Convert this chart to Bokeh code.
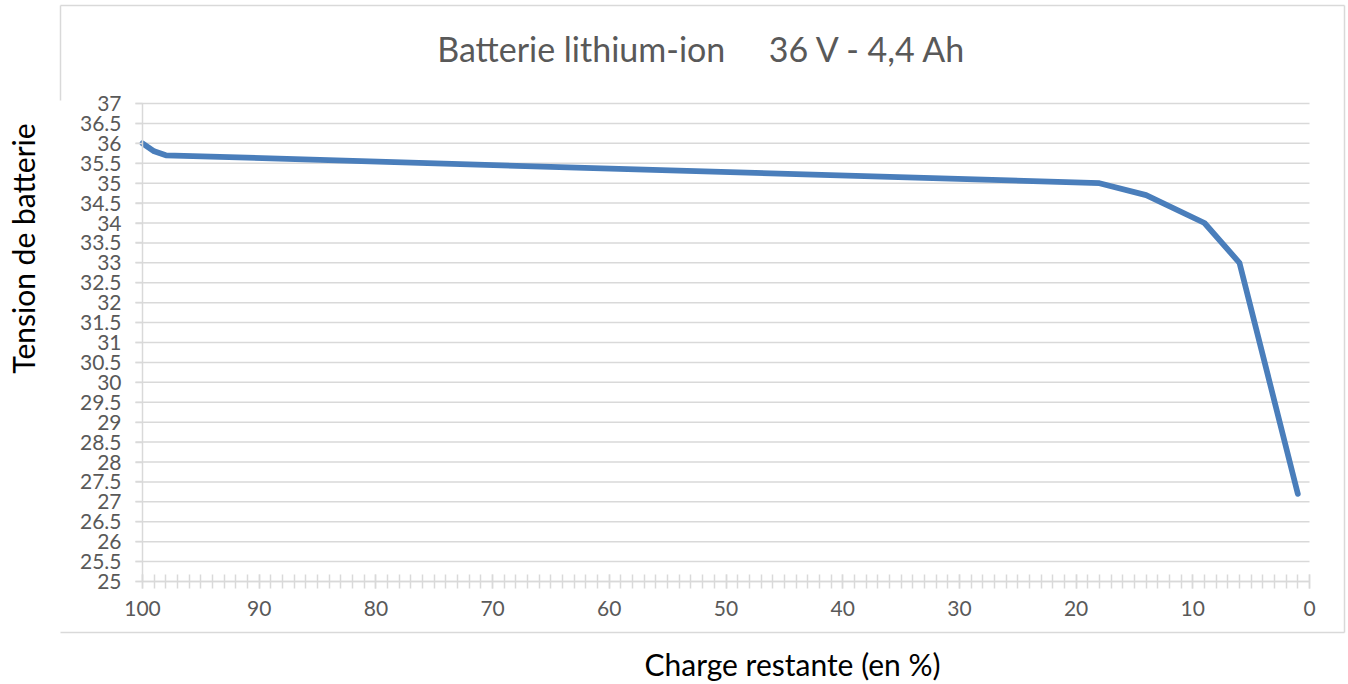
import math
from bokeh.plotting import figure
from bokeh.models import Range1d, FixedTicker, Label, LinearAxis
from bokeh.embed import file_html
from bokeh.resources import INLINE

# Data
charge = [100, 99, 98, 18, 14, 9, 6, 1]
tension = [36.0, 35.8, 35.7, 35.0, 34.7, 34.0, 33.0, 27.2]
y_ticks = [25 + 0.5 * i for i in range(25)]
y_tick_labels = [("%g" % t) for t in y_ticks]
x_ticks = list(range(0, 101, 10))
x_minor = list(range(0, 101))

title_text = "Batterie lithium-ion\u00a0\u00a0\u00a0\u00a0\u00a036 V - 4,4 Ah"
x_title = "Charge restante (en %)"
y_title = "Tension de batterie"

# Layout (canvas pixels)
W, H = 1348, 684
PL, PR, PT, PB = 142, 1309, 103, 581   # plot area edges
XMAX, XMIN, YMIN, YMAX = 100, 0, 25, 37
sx = (PR - PL) / (XMAX - XMIN)
sy = (PB - PT) / (YMAX - YMIN)

def dx(px):  # canvas px -> data x (reversed axis)
    return XMAX - (px - PL) / sx

def dy(py):  # canvas px -> data y
    return YMAX - (py - PT) / sy

FONT = "Lato"
GRID = "#D9D9D9"
TXT = "#595959"

p = figure(width=W, height=H, output_backend="svg", toolbar_location=None,
           x_range=Range1d(dx(0), dx(W)), y_range=Range1d(dy(H), dy(0)),
           x_axis_location=None, y_axis_location=None,
           min_border=0, outline_line_color=None)
p.xgrid.visible = False
p.ygrid.visible = False

# Outer chart border
bl, br, bt, bb = 60, 1344, 5, 632
p.segment(x0=[dx(bl), dx(bl), dx(br), dx(bl)], y0=[dy(bt), dy(bb), dy(bt), dy(bt)],
          x1=[dx(br), dx(br), dx(br), dx(bl)], y1=[dy(bt), dy(bb), dy(bb), dy(100)],
          line_color=GRID, line_width=1.5)

# Horizontal gridlines (extend slightly left like tick marks)
p.segment(x0=[dx(PL - 7)] * len(y_ticks), x1=[XMIN] * len(y_ticks),
          y0=y_ticks, y1=y_ticks, line_color=GRID, line_width=1.5)

p.line(charge, tension, line_color="#4A7EBB", line_width=5.75, line_join="round", line_cap="round")

# Y axis
ya = LinearAxis(fixed_location=XMAX, bounds=(YMIN, YMAX))
ya.ticker = FixedTicker(ticks=y_ticks, minor_ticks=[])
ya.major_label_overrides = {t: s for t, s in zip(y_ticks, y_tick_labels)}
ya.axis_line_color = GRID
ya.axis_line_width = 1.5
ya.major_tick_line_color = GRID
ya.major_tick_line_width = 1.5
ya.major_tick_out = 7
ya.major_tick_in = 0
ya.minor_tick_line_color = None
ya.major_label_text_font = FONT
ya.major_label_text_font_size = "21px"
ya.major_label_text_color = TXT
ya.major_label_standoff = 14
p.add_layout(ya, "left")

# X axis
xa = LinearAxis(fixed_location=YMIN, bounds=(XMIN, XMAX))
xa.ticker = FixedTicker(ticks=x_ticks, minor_ticks=x_minor)
xa.axis_line_color = GRID
xa.axis_line_width = 1.5
xa.major_tick_line_color = GRID
xa.major_tick_line_width = 1.5
xa.major_tick_out = 7
xa.major_tick_in = 7
xa.minor_tick_line_color = GRID
xa.minor_tick_line_width = 1.5
xa.minor_tick_out = 7
xa.minor_tick_in = 7
xa.major_label_text_font = FONT
xa.major_label_text_font_size = "21px"
xa.major_label_text_color = TXT
xa.major_label_standoff = 12
p.add_layout(xa, "below")

p.add_layout(Label(x=dx(702), y=dy(48), text=title_text,
                   text_font=FONT, text_font_size="34px", text_color=TXT,
                   text_align="center", text_baseline="middle"))
p.add_layout(Label(x=dx(792), y=dy(663), text=x_title,
                   text_font=FONT, text_font_size="30px", text_color="black",
                   text_align="center", text_baseline="middle"))
p.add_layout(Label(x=dx(22), y=dy(248), text=y_title,
                   text_font=FONT, text_font_size="30px", text_color="black",
                   angle=math.pi / 2, text_align="center", text_baseline="middle"))

open("out.html", "w").write(file_html(p, INLINE))
